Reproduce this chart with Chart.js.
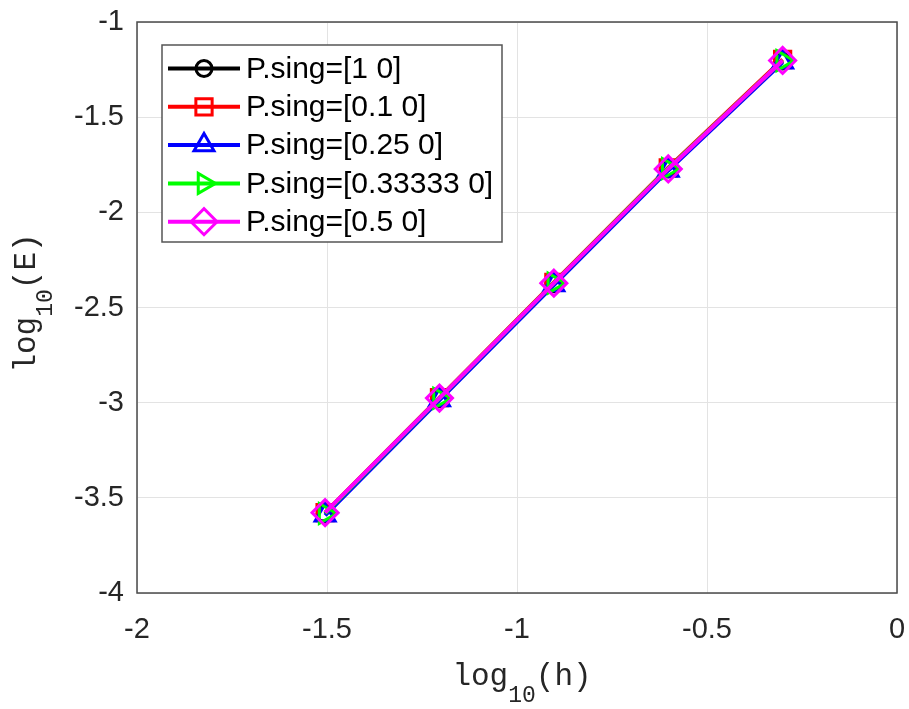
<!DOCTYPE html>
<html>
<head>
<meta charset="utf-8">
<script src="https://cdn.jsdelivr.net/npm/chart.js@4.4.1/dist/chart.umd.min.js"></script>
<style>
  html, body { margin: 0; padding: 0; background: #ffffff; }
  #wrap { width: 909px; height: 709px; position: relative; }
</style>
</head>
<body>
<div id="wrap"><canvas id="c" width="909" height="709"></canvas></div>
<script>
// ---- data ----
const logH = [-1.505, -1.204, -0.903, -0.602, -0.301];
const seriesLabels = ['P.sing=[1 0]', 'P.sing=[0.1 0]', 'P.sing=[0.25 0]', 'P.sing=[0.33333 0]', 'P.sing=[0.5 0]'];
const eSing1    = [-3.585, -2.980, -2.375, -1.772, -1.205];
const eSing01   = [-3.578, -2.974, -2.368, -1.766, -1.197];
const eSing025  = [-3.592, -2.986, -2.382, -1.780, -1.212];
const eSing0333 = [-3.582, -2.977, -2.372, -1.770, -1.203];
const eSing05   = [-3.578, -2.976, -2.372, -1.772, -1.202];
const xTickLabels = ['-2', '-1.5', '-1', '-0.5', '0'];
const yTickLabels = ['-4', '-3.5', '-3', '-2.5', '-2', '-1.5', '-1'];
const xTickStep = 0.5;
const yTickStep = 0.5;
const xRange = [-2, 0];
const yRange = [-4, -1];

const seriesValues = [eSing1, eSing01, eSing025, eSing0333, eSing05];
const colors = ['#000000', '#ff0000', '#0000ff', '#00ff00', '#ff00ff'];
const styles = ['circle', 'rect', 'triangle', 'triangle', 'rectRot'];
const rotations = [0, 0, 0, 90, 0];
const radii = [8, 11.5, 11.5, 11.5, 13];

const datasets = seriesValues.map((vals, i) => ({
  label: seriesLabels[i],
  data: vals.map((v, j) => ({ x: logH[j], y: v })),
  borderColor: colors[i],
  backgroundColor: 'rgba(0,0,0,0)',
  borderWidth: 4,
  pointStyle: styles[i],
  pointRotation: rotations[i],
  pointRadius: radii[i],
  pointBorderWidth: 3,
  pointBorderColor: colors[i],
  pointBackgroundColor: 'rgba(0,0,0,0)',
  fill: false,
  tension: 0,
  order: seriesValues.length - i
}));

const AREA = { left: 137, right: 897, top: 22, bottom: 593 };
const TXT = '#262626';

function drawMarker(ctx, style, rot, r, x, y, color) {
  if (Chart.helpers && Chart.helpers.drawPoint) {
    ctx.save();
    ctx.strokeStyle = color; ctx.fillStyle = 'rgba(0,0,0,0)'; ctx.lineWidth = 3;
    Chart.helpers.drawPoint(ctx, { pointStyle: style, rotation: rot, radius: r, borderWidth: 3 }, x, y);
    ctx.restore();
  }
}

function fmtTick(labels, range, step) {
  return function (value) {
    const idx = Math.round((value - range[0]) / step);
    return labels[idx] !== undefined ? labels[idx] : String(value);
  };
}

const boxPlugin = {
  id: 'boxPlugin',
  afterDraw(chart) {
    const ctx = chart.ctx;
    const a = chart.chartArea;
    ctx.save();
    ctx.strokeStyle = '#4a4a4a';
    ctx.lineWidth = 1.5;
    ctx.strokeRect(a.left, a.top, a.right - a.left, a.bottom - a.top);

    // legend
    const lx = 162, ly = 45, lw = 340, lh = 197;
    ctx.fillStyle = '#ffffff';
    ctx.fillRect(lx, ly, lw, lh);
    ctx.strokeStyle = '#555555';
    ctx.lineWidth = 1.5;
    ctx.strokeRect(lx, ly, lw, lh);
    const rowY0 = 68.5, rowStep = 38.3;
    ctx.font = '30px "Liberation Sans", Arial, sans-serif';
    ctx.textBaseline = 'middle';
    ctx.textAlign = 'left';
    chart.data.datasets.forEach((ds, i) => {
      const y = rowY0 + i * rowStep;
      ctx.strokeStyle = ds.borderColor;
      ctx.lineWidth = 4;
      ctx.beginPath(); ctx.moveTo(168, y); ctx.lineTo(240, y); ctx.stroke();
      drawMarker(ctx, ds.pointStyle, ds.pointRotation, ds.pointRadius, 204, y, ds.borderColor);
      ctx.fillStyle = '#000000';
      ctx.fillText(ds.label, 246, y + 1);
    });

    // axis titles
    const mainF = '31px "Liberation Mono", "DejaVu Sans Mono", monospace';
    const subF = '23px "Liberation Mono", "DejaVu Sans Mono", monospace';
    function title(txtA, sub, txtB, cx, baseY, subDy) {
      ctx.textBaseline = 'alphabetic';
      ctx.textAlign = 'left';
      ctx.font = mainF; const wA = ctx.measureText(txtA).width; const wB = ctx.measureText(txtB).width;
      ctx.font = subF; const wS = ctx.measureText(sub).width;
      const total = wA + wS + wB;
      let x = cx - total / 2;
      ctx.fillStyle = TXT;
      ctx.font = mainF; ctx.fillText(txtA, x, baseY); x += wA;
      ctx.font = subF; ctx.fillText(sub, x, baseY + subDy); x += wS;
      ctx.font = mainF; ctx.fillText(txtB, x, baseY);
    }
    title('log', '10', '(h)', 522, 685, 17);
    ctx.save();
    ctx.translate(35, 303);
    ctx.rotate(-Math.PI / 2);
    title('log', '10', '(E)', 0, 0, 17);
    ctx.restore();
    ctx.restore();
  }
};

new Chart(document.getElementById('c'), {
  type: 'line',
  data: { datasets },
  options: {
    responsive: false,
    animation: false,
    devicePixelRatio: 1,
    layout: { autoPadding: false, padding: { left: 0, right: 909 - AREA.right, top: AREA.top, bottom: 0 } },
    plugins: { legend: { display: false }, tooltip: { enabled: false } },
    scales: {
      x: {
        type: 'linear', min: xRange[0], max: xRange[1],
        afterFit(s) { s.height = 709 - AREA.bottom; s.paddingLeft = 0; s.paddingRight = 0; },
        grid: { color: '#e3e3e3', lineWidth: 1, drawTicks: false },
        border: { display: false },
        ticks: { stepSize: xTickStep, color: TXT, padding: 20, maxRotation: 0,
                 callback: fmtTick(xTickLabels, xRange, xTickStep),
                 font: { family: '"Liberation Sans", Arial, sans-serif', size: 29 } }
      },
      y: {
        type: 'linear', min: yRange[0], max: yRange[1],
        afterFit(s) { s.width = AREA.left; s.paddingTop = 0; s.paddingBottom = 0; },
        grid: { color: '#e3e3e3', lineWidth: 1, drawTicks: false },
        border: { display: false },
        ticks: { stepSize: yTickStep, color: TXT, padding: 13,
                 callback: fmtTick(yTickLabels, yRange, yTickStep),
                 font: { family: '"Liberation Sans", Arial, sans-serif', size: 29 } }
      }
    }
  },
  plugins: [boxPlugin]
});
</script>
</body>
</html>
